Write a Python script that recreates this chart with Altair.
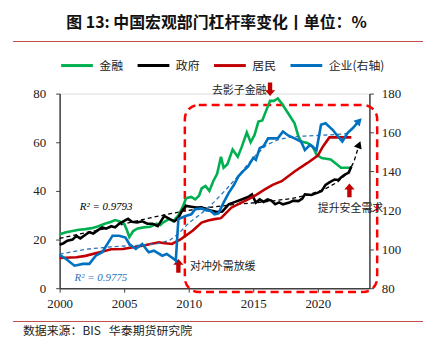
import altair as alt
import pandas as pd

# ---------------- data ----------------
fin_x = [2000.0, 2000.5, 2001.0, 2001.5, 2002.0, 2002.5, 2003.0, 2003.5, 2004.0, 2004.3, 2004.6, 2005.0, 2005.2, 2005.4,
         2005.7, 2006.0, 2006.5, 2007.0, 2007.5, 2007.8, 2008.0, 2008.5, 2008.8, 2009.2, 2009.5, 2009.8, 2010.2, 2010.5,
         2010.8, 2011.0, 2011.3, 2011.6, 2011.9, 2012.2, 2012.5, 2012.7, 2013.0, 2013.4, 2013.8, 2014.1, 2014.5, 2014.8,
         2015.1, 2015.4, 2015.7, 2016.0, 2016.3, 2016.6, 2016.9, 2017.2, 2017.7, 2018.2, 2018.5, 2018.7, 2019.2, 2019.6,
         2019.9, 2020.3, 2021.0, 2021.8, 2022.6]
fin_y = [22.2, 23.0, 23.5, 24.0, 24.3, 24.7, 25.5, 26.5, 27.3, 28.0, 27.5, 26.5, 24.0, 21.0,
         23.5, 24.5, 25.0, 25.3, 26.5, 26.0, 27.0, 28.5, 27.5, 30.0, 33.0, 37.0, 37.5, 36.5,
         38.0, 41.0, 42.0, 40.0, 44.0, 47.0, 54.0, 49.5, 51.0, 57.0, 54.0, 58.0, 64.0, 60.0,
         63.0, 68.5, 69.0, 73.0, 77.0, 77.0, 78.0, 76.0, 71.9, 67.8, 62.4, 60.3, 59.7, 58.3,
         54.9, 53.5, 52.9, 49.5, 49.5]

gov_x = [2000.0, 2000.3, 2000.6, 2001.0, 2001.3, 2001.6, 2002.0, 2002.3, 2002.6, 2003.0, 2003.3, 2003.6, 2004.0, 2004.3,
         2004.6, 2005.0, 2005.3, 2005.6, 2006.0, 2006.4, 2006.8, 2007.2, 2007.6, 2007.9, 2008.1, 2008.5, 2008.9, 2009.2,
         2009.5, 2009.8, 2010.2, 2010.6, 2011.0, 2011.4, 2011.8, 2012.2, 2012.6, 2013.1, 2013.6, 2014.1, 2014.6, 2014.9,
         2015.2, 2015.5, 2015.8, 2016.1, 2016.4, 2016.7, 2017.0, 2017.3, 2017.8, 2018.1, 2018.5, 2018.8, 2019.0, 2019.5,
         2020.0, 2020.3, 2020.6, 2020.9, 2021.3, 2021.6, 2021.8, 2022.1, 2022.4, 2022.6]
gov_y = [17.9, 18.5, 19.5, 20.0, 21.5, 20.5, 22.0, 23.0, 22.5, 24.0, 25.0, 24.5, 25.5, 25.0,
         26.5, 27.7, 28.5, 27.3, 27.0, 27.5, 26.5, 26.5, 25.5, 28.0, 29.7, 28.5, 27.5, 29.0,
         32.0, 33.8, 33.5, 33.2, 33.3, 32.5, 31.8, 31.3, 31.5, 34.5, 35.5, 36.5, 37.5, 38.6,
         35.2, 36.5, 35.5, 36.5, 36.0, 34.5, 35.3, 34.5, 35.2, 36.0, 35.8, 36.8, 38.6, 38.3,
         39.3, 40.0, 42.5, 43.5, 44.7, 44.5, 45.5, 46.7, 47.5, 50.0]

hh_x = [2000.0, 2001.3, 2002.0, 2003.1, 2004.0, 2004.9, 2006.4, 2007.7, 2008.0, 2008.7, 2009.4, 2010.3, 2011.0, 2011.5,
        2012.0, 2012.5, 2013.0, 2013.3, 2014.0, 2014.6, 2015.2, 2015.9, 2016.5, 2017.2, 2018.2, 2019.2, 2020.0, 2020.4,
        2020.9, 2021.5, 2022.0, 2022.6]
hh_y = [12.4, 12.7, 13.3, 14.8, 16.0, 16.1, 17.5, 18.9, 18.6, 18.2, 20.2, 23.6, 27.0, 27.8,
        28.4, 28.8, 31.5, 33.1, 35.0, 36.5, 38.3, 40.6, 42.5, 44.0, 48.0, 51.5, 54.5, 58.3,
        62.0, 62.0, 62.0, 62.0]

corp_x = [2000.0, 2000.5, 2001.15, 2001.8, 2002.3, 2002.8, 2003.3, 2004.1, 2004.6, 2005.1, 2005.4, 2005.9, 2006.4, 2006.9,
          2007.3, 2007.95, 2008.3, 2008.85, 2009.0, 2009.2, 2009.75, 2010.2, 2010.5, 2011.0, 2011.4, 2011.7, 2012.0, 2012.3,
          2012.7, 2013.1, 2013.5, 2013.85, 2014.2, 2014.6, 2015.0, 2015.2, 2015.5, 2015.8, 2016.15, 2016.5, 2016.9, 2017.3,
          2017.7, 2018.2, 2018.7, 2019.0, 2019.4, 2019.9, 2020.25, 2020.6, 2021.15, 2021.5, 2021.9, 2022.3, 2022.7, 2023.2]
corp_y = [97.1, 95.0, 91.6, 92.5, 92.5, 96.7, 98.5, 107.0, 107.0, 106.0, 102.7, 100.2, 102.7, 98.5,
          99.3, 96.7, 97.6, 95.0, 94.2, 115.5, 117.1, 118.0, 120.6, 121.0, 120.0, 119.7, 118.0, 118.5,
          124.0, 129.0, 133.0, 137.5, 140.0, 142.6, 147.0, 146.0, 152.0, 153.0, 157.0, 157.0, 157.0, 160.5,
          158.5, 157.0, 155.4, 151.0, 153.7, 151.0, 164.0, 164.8, 161.4, 158.5, 155.4, 159.7, 162.2, 166.0]

gov_trend_x = [2000.0, 2002.0, 2004.0, 2005.4, 2007.7, 2009.7, 2011.0, 2013.3, 2015.9, 2017.9, 2019.2, 2020.5, 2021.5,
               2022.4, 2022.8, 2023.2]
gov_trend_y = [20.5, 22.8, 25.0, 27.0, 29.7, 31.8, 32.8, 34.3, 35.5, 36.8, 38.3, 40.6, 43.5, 48.0, 52.0, 59.0]

corp_trend_x = [2000.0, 2002.0, 2004.0, 2006.0, 2007.5, 2008.5, 2009.2, 2010.0, 2011.0, 2012.0, 2013.0, 2014.0, 2015.0,
                2016.0, 2017.0, 2018.0, 2019.0, 2020.0, 2021.0, 2022.5]
corp_trend_y = [97.5, 100.0, 101.3, 102.0, 102.8, 104.5, 108.0, 113.5, 118.5, 124.5, 131.5, 139.0, 147.0,
                153.5, 156.5, 157.8, 158.2, 158.5, 158.8, 159.5]

series_names = ["金融", "政府", "居民", "企业(右轴)"]
series_colors = ["#00B050", "#000000", "#C00000", "#0070C0"]

title_text = "图 13: 中国宏观部门杠杆率变化丨单位：%"
source_text = "数据来源：BIS\u00a0\u00a0\u00a0华泰期货研究院"

notes = ["去影子金融", "对冲外需放缓", "提升安全需求"]
note_x = [2011.8, 2010.1, 2020.0]
note_y = [81.0, 8.8, 32.4]
arrow_x = [2016.3, 2009.2, 2022.45]
arrow_y = [81.8, 9.2, 40.2]
arrow_dir = ["down", "up", "up"]

r2_text = ["R² = 0.9793", "R² = 0.9775"]
r2_x = [2003.6, 2003.2]
r2_y = [33.3, 4.3]

left_ticks = [0, 20, 40, 60, 80]
right_ticks = [80, 100, 120, 140, 160, 180]
year_ticks = [2000, 2005, 2010, 2015, 2020]

# ---------------- build ----------------
FONT_CJK = "Noto Sans CJK SC"
FONT_SERIF = "Liberation Serif"

left_rows = []
for name, xs, ys in [(series_names[0], fin_x, fin_y), (series_names[1], gov_x, gov_y), (series_names[2], hh_x, hh_y)]:
    for i, (a, b) in enumerate(zip(xs, ys)):
        left_rows.append({"series": name, "x": a, "y": b, "i": i})
left_df = pd.DataFrame(left_rows)
corp_df = pd.DataFrame({"series": series_names[3], "x": corp_x, "y": corp_y, "i": range(len(corp_x))})

common_axis = dict(grid=False, title=None, labelFont=FONT_SERIF, labelFontSize=13, labelColor="#222",
                   domainColor="#404040", domainWidth=1.5, tickColor="#404040", tickSize=4,
                   labelOverlap=False, labelFlush=False)
xscale = alt.Scale(domain=[2000, 2024], nice=False, zero=False)
xaxis = alt.Axis(values=year_ticks, format="d", labelPadding=5, **common_axis)
yl_scale = alt.Scale(domain=[0, 80], nice=False)
yl_axis = alt.Axis(values=left_ticks, orient="left", labelPadding=10, **common_axis)
yr_scale = alt.Scale(domain=[80, 180], nice=False, zero=False)
yr_axis = alt.Axis(values=right_ticks, orient="right", labelPadding=8, **common_axis)

color_scale = alt.Scale(domain=series_names, range=series_colors)
legend = alt.Legend(title=None, orient="none", legendX=0, legendY=-46, direction="horizontal",
                    symbolType="stroke", symbolSize=1024, symbolStrokeWidth=3,
                    labelFont=FONT_CJK, labelFontSize=12, labelColor="#222", columnPadding=7, labelOffset=5)

X = alt.X("x:Q", scale=xscale, axis=xaxis)
YL = alt.Y("y:Q", scale=yl_scale, axis=yl_axis)
YR = alt.Y("y:Q", scale=yr_scale, axis=yr_axis)

left_lines = alt.Chart(left_df).mark_line(strokeWidth=2.6).encode(
    x=X, y=YL,
    color=alt.Color("series:N", scale=color_scale, legend=legend, sort=series_names),
    order="i:Q",
)

gov_trend = alt.Chart(pd.DataFrame({"x": gov_trend_x, "y": gov_trend_y})).mark_line(
    strokeWidth=1.3, strokeDash=[4, 3], color="#000000").encode(x=X, y=YL)
gov_head = alt.Chart(pd.DataFrame({"x": [gov_trend_x[-1]], "y": [gov_trend_y[-1]]})).mark_point(
    shape="triangle-up", filled=True, size=70, angle=22, color="#000000", opacity=1).encode(x=X, y=YL)

box = alt.Chart(pd.DataFrame({"x": [2009.7], "x2": [2024.6], "y": [-1.55], "y2": [75.3]})).mark_rect(
    filled=False, fill=None, stroke="#FF0000", strokeWidth=2.5, strokeDash=[8, 5], cornerRadius=14).encode(
    x=X, x2="x2:Q", y=YL, y2="y2:Q")

notes_ch = alt.Chart(pd.DataFrame({"t": notes, "x": note_x, "y": note_y})).mark_text(
    font=FONT_CJK, fontSize=11, color="#222", align="left", baseline="middle").encode(
    x=X, y=YL, text="t:N")

up_path = "M0,-1 L0.75,-0.15 L0.32,-0.15 L0.32,1 L-0.32,1 L-0.32,-0.15 L-0.75,-0.15 Z"
down_path = "M0,1 L0.75,0.15 L0.32,0.15 L0.32,-1 L-0.32,-1 L-0.32,0.15 L-0.75,0.15 Z"
arrows_df = pd.DataFrame({"x": arrow_x, "y": arrow_y, "d": arrow_dir})
arrows_ch = alt.Chart(arrows_df).mark_point(filled=True, size=190, color="#C00000", opacity=1).encode(
    x=X, y=YL,
    shape=alt.Shape("d:N", scale=alt.Scale(domain=["up", "down"], range=[up_path, down_path]), legend=None))

r2_ch = alt.Chart(pd.DataFrame({"t": r2_text, "x": r2_x, "y": r2_y, "c": ["#000000", "#2E75B6"]})).mark_text(
    font=FONT_SERIF, fontSize=11, fontStyle="italic", align="center", baseline="middle").encode(
    x=X, y=YL, text="t:N", color=alt.Color("c:N", scale=None))

# page decorations (title, rules, source) placed relative to the plot origin
deco_text = alt.Chart(pd.DataFrame({"t": [title_text]})).mark_text(
    font=FONT_CJK, fontSize=16, fontWeight="bold", color="#111", align="center", baseline="middle").encode(
    text="t:N", x=alt.value(158), y=alt.value(-71))
src_text = alt.Chart(pd.DataFrame({"t": [source_text]})).mark_text(
    font=FONT_CJK, fontSize=12, color="#222", align="left", baseline="middle").encode(
    text="t:N", x=alt.value(-37), y=alt.value(239))
top_rule = alt.Chart(pd.DataFrame({"a": [0]})).mark_rule(color="#C0504D", strokeWidth=1.2).encode(
    x=alt.value(-47), x2=alt.value(366), y=alt.value(-52.5))
bot_rule = alt.Chart(pd.DataFrame({"a": [0]})).mark_rule(color="#C0504D", strokeWidth=1.2).encode(
    x=alt.value(-47), x2=alt.value(366), y=alt.value(229.5))

left_layer = alt.layer(box, gov_trend, left_lines, gov_head, notes_ch, arrows_ch, r2_ch,
                       deco_text, src_text, top_rule, bot_rule)

corp_line = alt.Chart(corp_df).mark_line(strokeWidth=2.6).encode(
    x=X, y=YR, color=alt.Color("series:N", scale=color_scale, legend=legend, sort=series_names), order="i:Q")
corp_trend = alt.Chart(pd.DataFrame({"x": corp_trend_x, "y": corp_trend_y})).mark_line(
    strokeWidth=1.3, strokeDash=[4, 3], color="#2E75B6").encode(x=X, y=YR)
corp_head = alt.Chart(pd.DataFrame({"x": [corp_x[-1]], "y": [corp_y[-1]]})).mark_point(
    shape="triangle-up", filled=True, size=75, angle=43, color="#0070C0", opacity=1).encode(x=X, y=YR)
right_layer = alt.layer(corp_trend, corp_line, corp_head)

chart = alt.layer(left_layer, right_layer).resolve_scale(y="independent").properties(
    width=312, height=196,
    autosize=alt.AutoSizeParams(type="none"),
    padding={"left": 52, "top": 85, "right": 60, "bottom": 60},
).configure_view(stroke=None).configure(background="white")

chart.save("out.html", embed_options={"renderer": "svg", "actions": False})
